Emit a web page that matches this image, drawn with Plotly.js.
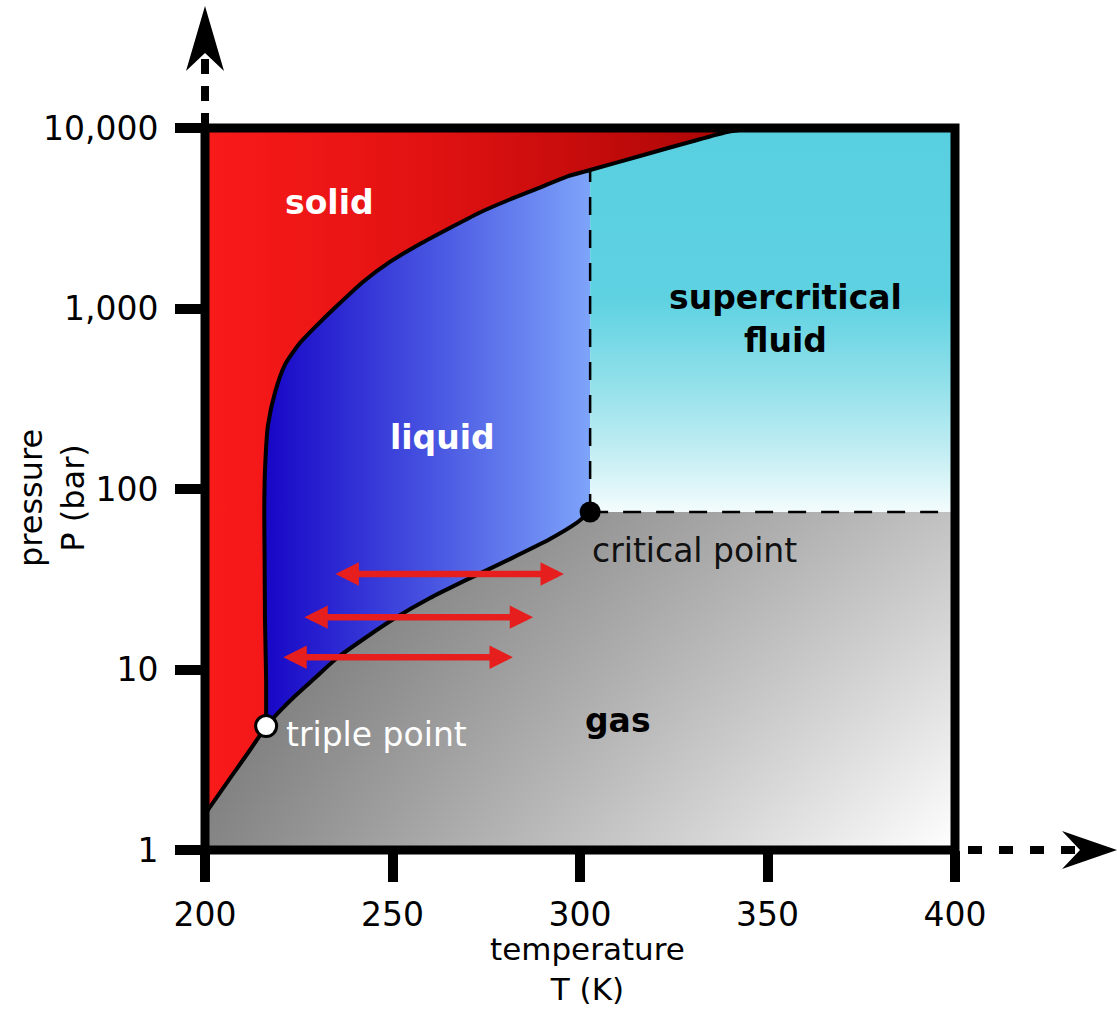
<!DOCTYPE html>
<html>
<head>
<meta charset="utf-8">
<script src="https://cdn.plot.ly/plotly-3.0.1.min.js"></script>
<style>html,body{margin:0;padding:0;background:#fff;}#chart{width:1117px;height:1010px;}</style>
</head>
<body>
<div id="chart"></div>
<script>
// ---------- data (T in K, P in bar) ----------
const tripleT = 216.3, tripleP = 4.86;
const criticalT = 302.7, criticalP = 74.6;

// sublimation curve (solid / gas)
const subT = [200, 207.5, 212, 216.3];
const subP = [1.58, 2.64, 3.58, 4.86];

// melting curve (solid / liquid and solid / supercritical)
const meltT = [216.3, 216.3, 216.0, 215.9, 215.8, 216.0, 216.8, 218.7, 221.3, 225.3, 230.7, 236.0, 242.1, 249.3, 257.3, 265.3, 273.3, 281.3, 289.3, 296.5, 302.7, 316.0, 329.3, 339.2, 346.1];
const meltP = [4.86, 8.74, 18.8, 40.4, 73.6, 127, 226, 344, 487, 644, 841, 1072, 1403, 1811, 2276, 2792, 3405, 4018, 4677, 5383, 5850, 7000, 8360, 9500, 10000];

// vaporisation curve (liquid / gas)
const vapT = [216.3, 220.0, 224.0, 229.3, 235.2, 242.7, 250.7, 260.0, 270.7, 281.3, 292.0, 298.7, 302.7];
const vapP = [4.86, 5.89, 7.13, 8.97, 11.58, 14.95, 19.28, 24.9, 32.1, 40.9, 52.8, 64.0, 74.6];

// red double arrows
const arrowLeftT = [234.4, 226.1, 220.5];
const arrowRightT = [295.7, 287.5, 282.1];
const arrowP = [33.8, 19.5, 11.7];

// axis ranges and ticks
const tMin = 200, tMax = 400, pMin = 1, pMax = 10000;
const xTicks = [200, 250, 300, 350, 400];
const yTicks = [1, 10, 100, 1000, 10000];
const yTickText = ['1', '10', '100', '1,000', '10,000'];

// ---------- region polygons built from the boundary arrays ----------
const iTc = meltT.indexOf(criticalT);
const vapTr = vapT.slice().reverse(), vapPr = vapP.slice().reverse();

const solidX = subT.concat(meltT.slice(1), [tMin]);
const solidY = subP.concat(meltP.slice(1), [pMax]);

const liquidX = meltT.slice(0, iTc + 1).concat(vapTr);
const liquidY = meltP.slice(0, iTc + 1).concat(vapPr);

const scX = meltT.slice(iTc).concat([tMax, tMax, criticalT]);
const scY = meltP.slice(iTc).concat([pMax, criticalP, criticalP]);

const gasX = [tMin].concat(subT, vapT.slice(1), [tMax, tMax]);
const gasY = [pMin].concat(subP, vapP.slice(1), [criticalP, pMin]);

const FONT = 'DejaVu Sans, Verdana, sans-serif';
const noLine = {width: 0, color: 'rgba(0,0,0,0)'};
const curveLine = {color: '#000', width: 4, shape: 'spline', smoothing: 0.6};

const traces = [
  {x: gasX, y: gasY, mode: 'lines', line: noLine, fill: 'toself', fillcolor: '#b0b0b0',
   fillgradient: {type: 'horizontal', colorscale: [[0, '#858585'], [1, '#ffffff']]}, hoverinfo: 'skip'},
  {x: gasX, y: gasY, mode: 'lines', line: noLine, fill: 'toself', fillcolor: 'rgba(0,0,0,0.1)',
   fillgradient: {type: 'vertical', colorscale: [[0, 'rgba(0,0,0,0)'], [1, 'rgba(0,0,0,0.24)']]}, hoverinfo: 'skip'},
  {x: liquidX, y: liquidY, mode: 'lines', line: noLine, fill: 'toself', fillcolor: '#4a55e0',
   fillgradient: {type: 'horizontal', colorscale: [[0, '#1706c6'], [0.5, '#4652e0'], [1, '#7ea4fa']]}, hoverinfo: 'skip'},
  {x: solidX, y: solidY, mode: 'lines', line: noLine, fill: 'toself', fillcolor: '#e01010',
   fillgradient: {type: 'horizontal', colorscale: [[0, '#fa1a1a'], [0.4, '#e21212'], [1, '#a80505']]}, hoverinfo: 'skip'},
  {x: scX, y: scY, mode: 'lines', line: noLine, fill: 'toself', fillcolor: '#5ad0e0',
   fillgradient: {type: 'vertical', colorscale: [[0, '#f4fcfd'], [0.15, '#c4eef3'], [0.35, '#8edfe9'], [0.55, '#5fd2e2'], [1, '#58cfe0']]}, hoverinfo: 'skip'},
  // dashed critical isotherm and isobar
  {x: [criticalT, criticalT], y: [criticalP, meltP[iTc]], mode: 'lines',
   line: {color: '#000', width: 2.5, dash: '18px,15px'}, hoverinfo: 'skip'},
  {x: [criticalT, tMax], y: [criticalP, criticalP], mode: 'lines',
   line: {color: '#000', width: 2.5, dash: '18px,15px'}, hoverinfo: 'skip'},
  // phase boundaries
  {x: subT, y: subP, mode: 'lines', line: curveLine, hoverinfo: 'skip'},
  {x: meltT, y: meltP, mode: 'lines', line: curveLine, hoverinfo: 'skip'},
  {x: vapT, y: vapP, mode: 'lines', line: curveLine, hoverinfo: 'skip'},
  // triple and critical points
  {x: [tripleT], y: [tripleP], mode: 'markers', marker: {size: 21, color: '#fff', line: {color: '#000', width: 3}}, hoverinfo: 'skip'},
  {x: [criticalT], y: [criticalP], mode: 'markers', marker: {size: 21, color: '#000'}, hoverinfo: 'skip'}
];

// ---------- annotations ----------
const annotations = [];
for (let i = 0; i < arrowP.length; i++) {
  annotations.push({
    x: arrowRightT[i], y: Math.log10(arrowP[i]), ax: arrowLeftT[i], ay: Math.log10(arrowP[i]),
    xref: 'x', yref: 'y', axref: 'x', ayref: 'y', text: '', showarrow: true,
    arrowside: 'end+start', arrowhead: 2, startarrowhead: 2,
    arrowsize: 0.72, startarrowsize: 0.72, arrowwidth: 6.5, arrowcolor: '#e61e1e',
    standoff: 0, startstandoff: 0
  });
}
function label(text, T, P, color, xanchor) {
  return {x: T, y: Math.log10(P), xref: 'x', yref: 'y', text: text, showarrow: false,
          xanchor: xanchor || 'center', yanchor: 'middle',
          font: {family: FONT, size: 33, color: color}};
}
annotations.push(label('<b>solid</b>', 233.3, 3890, '#fff'));
annotations.push(label('<b>liquid</b>', 263.2, 192, '#fff'));
annotations.push(label('<b>supercritical<br>fluid</b>', 354.7, 875, '#000'));
annotations.push(label('<b>gas</b>', 310.1, 5.25, '#000'));
annotations.push(label('critical point', 302.7, 45.9, '#111', 'left'));
annotations.push(label('triple point', 221.0, 4.34, '#fff', 'left'));

// axis titles
const PX = px => (px - 205) / 750;
const PY = py => (850 - py) / 722;
function title(text, px, py, angle, size) {
  return {xref: 'paper', yref: 'paper', x: PX(px), y: PY(py), text: text, textangle: angle || 0,
          showarrow: false, xanchor: 'center', yanchor: 'middle',
          font: {family: FONT, size: size, color: '#000'}};
}
annotations.push(title('temperature<br>T (K)', 587, 969, 0, 31));
annotations.push(title('pressure<br>P (bar)', 52, 498, -90, 32));

// ---------- frame and dashed axis arrows (paper coordinates) ----------
const shapes = [
  {type: 'rect', xref: 'paper', yref: 'paper', x0: 0, x1: 1, y0: 0, y1: 1,
   line: {color: '#000', width: 9}, fillcolor: 'rgba(0,0,0,0)', layer: 'above'},
  {type: 'line', xref: 'paper', yref: 'paper', x0: 0, x1: 0, y0: PY(128), y1: PY(56),
   line: {color: '#000', width: 8, dash: '15px,12px'}, layer: 'above'},
  {type: 'path', xref: 'paper', yref: 'paper',
   path: 'M' + PX(205) + ',' + PY(6) + ' L' + PX(224) + ',' + PY(71) + ' L' + PX(205) + ',' + PY(53) +
         ' L' + PX(186) + ',' + PY(71) + ' Z',
   fillcolor: '#000', line: {width: 0}, layer: 'above'},
  {type: 'line', xref: 'paper', yref: 'paper', x0: PX(968), x1: PX(1082), y0: 0, y1: 0,
   line: {color: '#000', width: 8, dash: '14px,17px'}, layer: 'above'},
  {type: 'path', xref: 'paper', yref: 'paper',
   path: 'M' + PX(1117) + ',' + PY(850) + ' L' + PX(1062) + ',' + PY(869) + ' L' + PX(1080) + ',' + PY(850) +
         ' L' + PX(1062) + ',' + PY(831) + ' Z',
   fillcolor: '#000', line: {width: 0}, layer: 'above'}
];

const layout = {
  width: 1117, height: 1010,
  margin: {l: 205, r: 162, t: 128, b: 160, pad: 0},
  paper_bgcolor: '#fff', plot_bgcolor: '#fff',
  showlegend: false, hovermode: false,
  font: {family: FONT, size: 33, color: '#000'},
  xaxis: {
    range: [tMin, tMax], tickvals: xTicks, ticktext: xTicks.map(String),
    ticks: 'outside', ticklen: 31, tickwidth: 10, tickcolor: '#000',
    showline: false, showgrid: false, zeroline: false,
    tickfont: {family: FONT, size: 33, color: '#000'}, ticklabelstandoff: 4
  },
  yaxis: {
    type: 'log', range: [Math.log10(pMin), Math.log10(pMax)], tickvals: yTicks, ticktext: yTickText,
    ticks: 'outside', ticklen: 29, tickwidth: 10, tickcolor: '#000',
    showline: false, showgrid: false, zeroline: false,
    tickfont: {family: FONT, size: 33, color: '#000'}, ticklabelstandoff: 10
  },
  annotations: annotations,
  shapes: shapes
};

Plotly.newPlot('chart', traces, layout, {staticPlot: true, displayModeBar: false});
</script>
</body>
</html>
